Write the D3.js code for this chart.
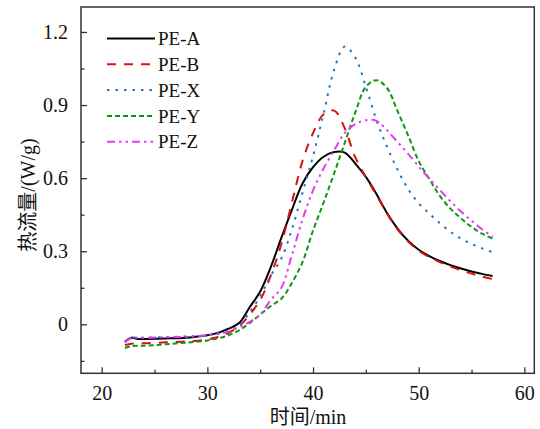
<!DOCTYPE html>
<html>
  <head>
    <meta charset="utf-8" />
    <script src="https://d3js.org/d3.v7.min.js"></script>
    <style>
      body { margin: 0; background: #fff; }
    </style>
  </head>
  <body>
    <script>
      // time axis (min), shared by all series
      const time = [22.2, 22.8, 23.4, 24, 26, 28, 30, 31, 32, 33, 34, 35, 36, 37, 38, 39, 40,
        41, 42, 43, 44, 45, 46, 47, 48, 49, 50, 51, 52, 53, 54, 55, 56, 57];

      // heat flow (W/g)
      const peA = [-0.072, -0.055, -0.06, -0.06, -0.058, -0.055, -0.045, -0.035, -0.018, 0.005, 0.07, 0.135, 0.235,
        0.355, 0.47, 0.578, 0.645, 0.688, 0.707, 0.705, 0.66, 0.605, 0.535, 0.457, 0.393, 0.343, 0.306,
        0.28, 0.26, 0.243, 0.229, 0.217, 0.207, 0.198];
      const peB = [-0.085, -0.08, -0.078, -0.078, -0.074, -0.07, -0.062, -0.052, -0.035, -0.008, 0.04, 0.1, 0.2,
        0.33, 0.5, 0.67, 0.785, 0.862, 0.877, 0.805, 0.685, 0.605, 0.53, 0.455, 0.39, 0.34, 0.302,
        0.276, 0.255, 0.237, 0.222, 0.208, 0.196, 0.186];
      const peX = [-0.07, -0.055, -0.055, -0.055, -0.052, -0.05, -0.045, -0.038, -0.026, -0.005, 0.05, 0.115, 0.2,
        0.27, 0.39, 0.54, 0.69, 0.865, 1.045, 1.14, 1.095, 0.975, 0.838, 0.729, 0.635, 0.555, 0.497,
        0.455, 0.415, 0.38, 0.352, 0.33, 0.312, 0.296];
      const peY = [-0.097, -0.09, -0.088, -0.088, -0.082, -0.075, -0.066, -0.058, -0.045, -0.025, 0.005, 0.04, 0.075,
        0.105, 0.17, 0.255, 0.385, 0.5, 0.62, 0.745, 0.87, 0.975, 1.002, 0.97, 0.875, 0.775, 0.67,
        0.597, 0.527, 0.475, 0.435, 0.4, 0.372, 0.352];
      const peZ = [-0.075, -0.055, -0.055, -0.055, -0.053, -0.051, -0.045, -0.04, -0.03, -0.012, 0.01, 0.04, 0.1,
        0.15, 0.284, 0.43, 0.55, 0.64, 0.715, 0.785, 0.822, 0.838, 0.835, 0.797, 0.748, 0.7, 0.648,
        0.598, 0.551, 0.505, 0.463, 0.425, 0.39, 0.36];

      const names = ["PE-A", "PE-B", "PE-X", "PE-Y", "PE-Z"];
      const xTicks = [20, 30, 40, 50, 60];
      const yTicks = [0, 0.3, 0.6, 0.9, 1.2];

      const series = [
        { name: names[0], values: peA, color: "#000000", dash: null },
        { name: names[1], values: peB, color: "#dd1010", dash: "9,8" },
        { name: names[2], values: peX, color: "#1f74c0", dash: "2.5,6" },
        { name: names[3], values: peY, color: "#0f960f", dash: "5,3" },
        { name: names[4], values: peZ, color: "#e03cf5", dash: "8,4,2.5,4,2.5,4" }
      ];

      const SERIF = "Liberation Serif";
      const CJK = "Noto Sans CJK SC";

      const width = 540, height = 429;
      const svg = d3.select("body").append("svg")
        .attr("width", width).attr("height", height)
        .attr("font-family", SERIF);

      const x = d3.scaleLinear().domain([18.04, 60.94]).range([81, 534.3]);
      const y = d3.scaleLinear().domain([-0.201, 1.3025]).range([373.3, 7]);

      // curves
      const line = d3.line()
        .x((d, i) => x(time[i]))
        .y((d) => y(d))
        .curve(d3.curveCatmullRom);

      svg.selectAll(".curve")
        .data(series)
        .enter()
        .append("path")
        .attr("class", "curve")
        .attr("d", (s) => line(s.values))
        .attr("fill", "none")
        .attr("stroke", (s) => s.color)
        .attr("stroke-width", 2)
        .attr("stroke-dasharray", (s) => s.dash);

      // frame
      svg.append("rect")
        .attr("x", x.range()[0]).attr("y", y.range()[1])
        .attr("width", x.range()[1] - x.range()[0])
        .attr("height", y.range()[0] - y.range()[1])
        .attr("fill", "none").attr("stroke", "#333").attr("stroke-width", 1.5);

      // x axis (ticks inward)
      svg.append("g")
        .attr("transform", `translate(0,${y.range()[0]})`)
        .call(d3.axisBottom(x).tickValues(xTicks).tickSizeInner(-6).tickSizeOuter(0).tickPadding(13));
      svg.append("g")
        .attr("transform", `translate(0,${y.range()[0]})`)
        .call(d3.axisBottom(x).tickValues([25, 35, 45, 55]).tickSizeInner(-3.5).tickSizeOuter(0).tickFormat(""));

      // y axis
      svg.append("g")
        .attr("transform", `translate(${x.range()[0]},0)`)
        .call(d3.axisLeft(y).tickValues(yTicks).tickSizeInner(-6).tickSizeOuter(0).tickPadding(13)
          .tickFormat((d) => (d === 0 ? "0" : d3.format(".1f")(d))));
      svg.append("g")
        .attr("transform", `translate(${x.range()[0]},0)`)
        .call(d3.axisLeft(y).tickValues([-0.15, 0.15, 0.45, 0.75, 1.05]).tickSizeInner(-3.5).tickSizeOuter(0).tickFormat(""));

      svg.selectAll(".domain").remove();
      svg.selectAll("g").attr("font-family", SERIF).attr("font-size", 20);
      svg.selectAll(".tick line").attr("stroke", "#333").attr("stroke-width", 1.3);
      svg.selectAll(".tick text")
        .attr("fill", "#111")
        .attr("font-family", SERIF)
        .attr("font-size", 20);

      // legend
      const legend = svg.append("g");
      series.forEach((s, i) => {
        const ly = 38.5 + i * 25.8;
        legend.append("line")
          .attr("x1", 107).attr("x2", 155)
          .attr("y1", ly).attr("y2", ly)
          .attr("stroke", s.color)
          .attr("stroke-width", 2)
          .attr("stroke-dasharray", s.dash);
        legend.append("text")
          .attr("x", 158).attr("y", ly)
          .attr("dy", "0.35em")
          .attr("font-family", SERIF)
          .attr("font-size", 19)
          .attr("fill", "#111")
          .text(s.name);
      });

      // axis titles
      svg.append("text")
        .attr("x", 308).attr("y", 424)
        .attr("text-anchor", "middle")
        .attr("font-family", SERIF)
        .attr("font-size", 20)
        .attr("fill", "#111")
        .call((t) => {
          t.append("tspan").attr("font-family", CJK).text("时间");
          t.append("tspan").attr("font-family", SERIF).text("/min");
        });

      svg.append("text")
        .attr("transform", "translate(35,195) rotate(-90)")
        .attr("text-anchor", "middle")
        .attr("font-family", SERIF)
        .attr("font-size", 20)
        .attr("fill", "#111")
        .call((t) => {
          t.append("tspan").attr("font-family", CJK).text("热流量");
          t.append("tspan").attr("font-family", SERIF).text("/(W/g)");
        });
    </script>
  </body>
</html>
